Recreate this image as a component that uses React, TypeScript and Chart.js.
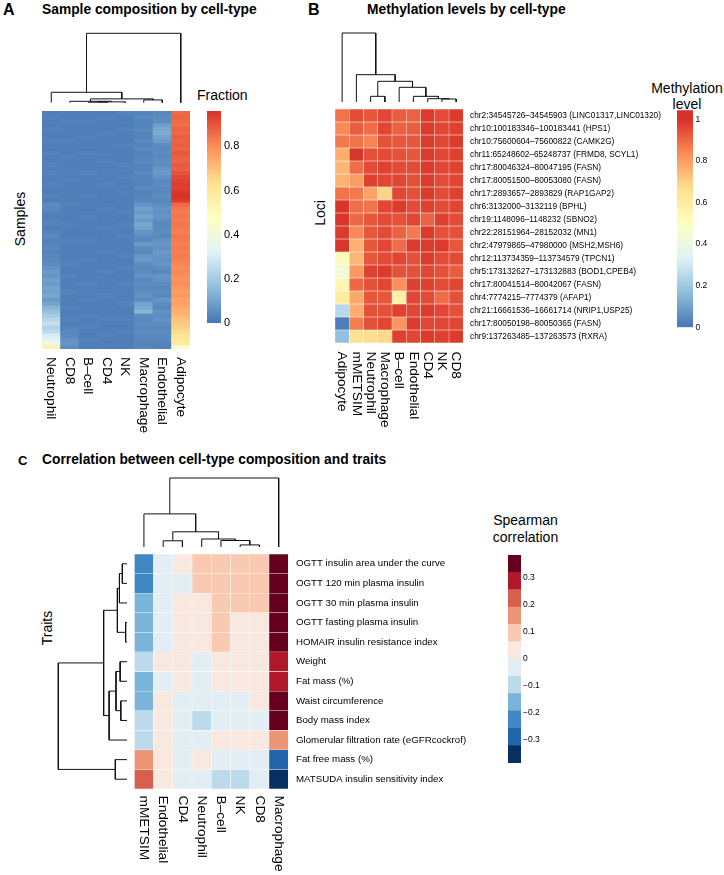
import React, { useEffect, useRef } from 'react';
import { Chart, registerables } from 'chart.js';

Chart.register(...registerables);

const FONT = '"Liberation Sans", Arial, Helvetica, sans-serif';
Chart.defaults.font.family = FONT;
Chart.defaults.color = '#000';

// ================= Panel A: sample composition =================
const A_CELL_TYPES = ['Neutrophil', 'CD8', 'B–cell', 'CD4', 'NK', 'Macrophage', 'Endothelial', 'Adipocyte'];
const A_NEUTROPHIL = [
  0.02, 0.03, 0.02, 0.02, 0.03, 0.02, 0.02, 0.03, 0.02, 0.02, 0.03, 0.02, 0.02, 0.03, 0.02, 0.03, 0.02, 0.02, 0.03, 0.02,
  0.02, 0.03, 0.02, 0.05, 0.04, 0.03, 0.02, 0.03, 0.03, 0.02, 0.03, 0.04, 0.03, 0.03, 0.04, 0.03, 0.04, 0.04, 0.05, 0.06,
  0.08, 0.07, 0.09, 0.08, 0.1, 0.09, 0.11, 0.08, 0.1, 0.14, 0.17, 0.2, 0.23, 0.26, 0.22, 0.25, 0.3, 0.33, 0.38, 0.54,
];
const A_CD8 = [
  0.02, 0.02, 0.03, 0.02, 0.02, 0.02, 0.02, 0.03, 0.02, 0.02, 0.02, 0.03, 0.02, 0.02, 0.02, 0.02, 0.02, 0.03, 0.02, 0.02,
  0.02, 0.02, 0.02, 0.03, 0.02, 0.02, 0.02, 0.02, 0.03, 0.02, 0.02, 0.02, 0.03, 0.02, 0.02, 0.02, 0.02, 0.02, 0.03, 0.02,
  0.02, 0.03, 0.02, 0.02, 0.02, 0.03, 0.02, 0.02, 0.02, 0.03, 0.02, 0.02, 0.03, 0.02, 0.03, 0.04, 0.04, 0.06, 0.07, 0.05,
];
const A_BCELL = [
  0.02, 0.02, 0.03, 0.02, 0.02, 0.02, 0.03, 0.02, 0.02, 0.02, 0.03, 0.02, 0.02, 0.02, 0.02, 0.03, 0.02, 0.02, 0.02, 0.02,
  0.02, 0.03, 0.02, 0.02, 0.02, 0.02, 0.03, 0.02, 0.02, 0.02, 0.02, 0.02, 0.03, 0.02, 0.02, 0.02, 0.02, 0.03, 0.02, 0.02,
  0.02, 0.02, 0.02, 0.03, 0.02, 0.02, 0.02, 0.03, 0.02, 0.02, 0.02, 0.03, 0.02, 0.02, 0.03, 0.02, 0.02, 0.03, 0.02, 0.02,
];
const A_CD4 = [
  0.02, 0.03, 0.02, 0.02, 0.02, 0.03, 0.02, 0.02, 0.02, 0.02, 0.02, 0.02, 0.03, 0.02, 0.02, 0.02, 0.02, 0.02, 0.03, 0.02,
  0.02, 0.02, 0.02, 0.02, 0.03, 0.02, 0.02, 0.02, 0.02, 0.03, 0.02, 0.02, 0.02, 0.02, 0.02, 0.03, 0.02, 0.02, 0.02, 0.02,
  0.03, 0.02, 0.02, 0.02, 0.02, 0.02, 0.03, 0.02, 0.02, 0.02, 0.02, 0.02, 0.03, 0.02, 0.02, 0.02, 0.03, 0.02, 0.02, 0.02,
];
const A_NK = [
  0.03, 0.02, 0.02, 0.02, 0.03, 0.02, 0.02, 0.02, 0.03, 0.02, 0.02, 0.02, 0.02, 0.03, 0.02, 0.02, 0.03, 0.02, 0.02, 0.02,
  0.03, 0.02, 0.02, 0.02, 0.02, 0.03, 0.02, 0.02, 0.03, 0.02, 0.02, 0.03, 0.02, 0.02, 0.02, 0.02, 0.03, 0.02, 0.02, 0.03,
  0.02, 0.02, 0.02, 0.03, 0.02, 0.02, 0.02, 0.02, 0.03, 0.02, 0.02, 0.02, 0.03, 0.02, 0.02, 0.03, 0.02, 0.02, 0.02, 0.02,
];
const A_MACROPHAGE = [
  0.03, 0.04, 0.03, 0.03, 0.04, 0.03, 0.03, 0.04, 0.03, 0.04, 0.03, 0.03, 0.04, 0.03, 0.03, 0.04, 0.03, 0.03, 0.03, 0.04,
  0.03, 0.03, 0.04, 0.07, 0.09, 0.08, 0.1, 0.08, 0.11, 0.09, 0.07, 0.05, 0.04, 0.08, 0.05, 0.04, 0.07, 0.08, 0.05, 0.04,
  0.05, 0.06, 0.04, 0.05, 0.04, 0.05, 0.06, 0.05, 0.1, 0.11, 0.14, 0.05, 0.04, 0.05, 0.04, 0.05, 0.04, 0.04, 0.03, 0.04,
];
const A_ENDOTHELIAL = [
  0.04, 0.05, 0.05, 0.09, 0.11, 0.12, 0.1, 0.08, 0.05, 0.04, 0.05, 0.04, 0.05, 0.05, 0.07, 0.08, 0.06, 0.04, 0.05, 0.04,
  0.04, 0.05, 0.04, 0.05, 0.07, 0.06, 0.07, 0.05, 0.04, 0.05, 0.05, 0.04, 0.06, 0.07, 0.06, 0.08, 0.07, 0.06, 0.07, 0.05,
  0.04, 0.07, 0.06, 0.05, 0.04, 0.05, 0.04, 0.07, 0.05, 0.04, 0.06, 0.05, 0.06, 0.05, 0.04, 0.05, 0.04, 0.04, 0.03, 0.03,
];
const A_ADIPOCYTE = [
  0.86, 0.87, 0.86, 0.85, 0.87, 0.86, 0.88, 0.87, 0.88, 0.87, 0.89, 0.88, 0.87, 0.89, 0.88, 0.9, 0.92, 0.93, 0.94, 0.93,
  0.95, 0.96, 0.94, 0.86, 0.84, 0.83, 0.84, 0.83, 0.84, 0.83, 0.82, 0.84, 0.83, 0.82, 0.83, 0.82, 0.83, 0.82, 0.81, 0.8,
  0.81, 0.8, 0.79, 0.8, 0.78, 0.77, 0.78, 0.76, 0.76, 0.74, 0.73, 0.72, 0.7, 0.68, 0.67, 0.65, 0.62, 0.6, 0.58, 0.45,
];
const A_SERIES = [A_NEUTROPHIL, A_CD8, A_BCELL, A_CD4, A_NK, A_MACROPHAGE, A_ENDOTHELIAL, A_ADIPOCYTE];
const A_FRACTION_RANGE = [0, 0.96];
const A_FRACTION_TICKS = [0, 0.2, 0.4, 0.6, 0.8];
// hclust-style merges: negative = leaf (1-based), positive = earlier merge; third = height
const A_DENDRO = [[-3, -4, 0.008], [1, -5, 0.012], [-2, 2, 0.02], [-6, -7, 0.04], [3, 4, 0.055], [-1, 5, 0.15], [6, -8, 1.0]];

// ================= Panel B: methylation =================
const B_CELL_TYPES = ['Adipocyte', 'mMETSIM', 'Neutrophil', 'Macrophage', 'B–cell', 'Endothelial', 'CD4', 'NK', 'CD8'];
const B_LOCI = [
  'chr2:34545726–34545903 (LINC01317,LINC01320)',
  'chr10:100183346–100183441 (HPS1)',
  'chr10:75600604–75600822 (CAMK2G)',
  'chr11:65248602–65248737 (FRMD8, SCYL1)',
  'chr17:80046324–80047195 (FASN)',
  'chr17:80051500–80053080 (FASN)',
  'chr17:2893657–2893829 (RAP1GAP2)',
  'chr6:3132000–3132119 (BPHL)',
  'chr19:1148096–1148232 (SBNO2)',
  'chr22:28151964–28152032 (MN1)',
  'chr2:47979865–47980000 (MSH2,MSH6)',
  'chr12:113734359–113734579 (TPCN1)',
  'chr5:173132627–173132883 (BOD1,CPEB4)',
  'chr17:80041514–80042067 (FASN)',
  'chr4:7774215–7774379 (AFAP1)',
  'chr21:16661536–16661714 (NRIP1,USP25)',
  'chr17:80050198–80050365 (FASN)',
  'chr9:137263485–137263573 (RXRA)',
];
const B_METHYLATION = [
  [0.88, 0.95, 0.93, 0.96, 0.92, 0.91, 0.98, 0.95, 0.98],
  [0.84, 0.92, 0.89, 0.96, 0.91, 0.92, 0.98, 0.96, 0.97],
  [0.87, 0.88, 0.85, 0.94, 0.93, 0.93, 0.98, 0.96, 0.98],
  [0.77, 0.99, 0.94, 0.95, 0.94, 0.93, 0.98, 0.96, 0.97],
  [0.75, 0.89, 0.95, 0.97, 0.95, 0.95, 0.98, 0.96, 0.97],
  [0.76, 0.8, 0.97, 0.96, 0.96, 0.94, 0.98, 0.95, 0.96],
  [0.88, 0.87, 0.79, 0.69, 0.96, 0.94, 0.98, 0.95, 0.97],
  [0.99, 0.89, 0.88, 0.96, 0.98, 0.95, 0.97, 0.95, 0.96],
  [0.99, 0.9, 0.93, 0.95, 0.94, 0.96, 0.91, 0.97, 0.95],
  [0.98, 0.84, 0.93, 0.95, 0.91, 0.87, 0.98, 0.94, 0.94],
  [0.99, 0.76, 0.93, 0.96, 0.89, 0.98, 0.98, 0.98, 0.93],
  [0.52, 0.75, 0.93, 0.95, 0.96, 0.94, 0.98, 0.95, 0.95],
  [0.43, 0.81, 0.97, 0.98, 0.94, 0.94, 0.96, 0.94, 0.92],
  [0.55, 0.9, 0.94, 0.96, 0.83, 0.97, 0.97, 0.95, 0.96],
  [0.6, 0.78, 0.93, 0.93, 0.58, 0.96, 0.95, 0.89, 0.94],
  [0.25, 0.77, 0.94, 0.94, 0.97, 0.96, 0.98, 0.96, 0.94],
  [0.02, 0.86, 0.94, 0.96, 0.82, 0.98, 0.96, 0.96, 0.96],
  [0.17, 0.66, 0.67, 0.68, 0.97, 0.96, 0.98, 0.97, 0.98],
];
const B_LEVEL_RANGE = [0, 1.043];
const B_LEVEL_TICKS = [0, 0.2, 0.4, 0.6, 0.8, 1];
const B_DENDRO = [[-8, -9, 0.043], [-7, 1, 0.048], [-6, 2, 0.082], [-3, -4, 0.082], [-5, 3, 0.213], [4, 5, 0.3], [-2, 6, 0.396], [-1, 7, 1.0]];

// ================= Panel C: correlation =================
const C_CELL_TYPES = ['mMETSIM', 'Endothelial', 'CD4', 'Neutrophil', 'B–cell', 'NK', 'CD8', 'Macrophage'];
const C_TRAITS = [
  'OGTT insulin area under the curve',
  'OGTT 120 min plasma insulin',
  'OGTT 30 min plasma insulin',
  'OGTT fasting plasma insulin',
  'HOMAIR insulin resistance index',
  'Weight',
  'Fat mass (%)',
  'Waist circumference',
  'Body mass index',
  'Glomerular filtration rate (eGFRcockrof)',
  'Fat free mass (%)',
  'MATSUDA insulin sensitivity index',
];
const C_CORRELATION = [
  [-0.22, -0.03, 0.03, 0.09, 0.09, 0.09, 0.09, 0.35],
  [-0.22, -0.03, -0.03, 0.09, 0.09, 0.09, 0.09, 0.35],
  [-0.16, -0.03, 0.03, 0.03, 0.09, 0.09, 0.09, 0.35],
  [-0.16, -0.03, 0.03, 0.03, 0.09, 0.03, 0.03, 0.35],
  [-0.16, -0.03, 0.03, 0.03, 0.09, 0.03, 0.03, 0.35],
  [-0.09, 0.03, 0.03, -0.03, 0.03, 0.03, 0.03, 0.29],
  [-0.16, -0.03, 0.03, -0.03, 0.03, 0.03, 0.03, 0.29],
  [-0.16, 0.03, -0.03, -0.03, -0.03, -0.03, 0.03, 0.35],
  [-0.09, 0.03, -0.03, -0.09, -0.03, -0.03, -0.03, 0.35],
  [-0.09, 0.03, -0.03, -0.03, 0.03, 0.03, 0.03, 0.16],
  [0.16, 0.03, -0.03, 0.03, -0.03, -0.03, -0.03, -0.29],
  [0.22, 0.03, -0.03, -0.03, -0.09, -0.09, -0.03, -0.35],
];
const C_BREAKS = [-0.385, -0.321, -0.257, -0.192, -0.128, -0.064, 0, 0.064, 0.128, 0.192, 0.257, 0.321, 0.385];
const C_COLORS = ['#053061', '#2265AD', '#4088C3', '#7AB4D8', '#BDDAEB', '#E2EDF4', '#F9E8E0', '#F9C9B1', '#EC9575', '#D6604D', '#B1182B', '#67001F'];
const C_TICKS = [-0.3, -0.2, -0.1, 0, 0.1, 0.2, 0.3];
const C_COL_DENDRO = [[-6, -7, 0.03], [-5, 1, 0.094], [-4, 2, 0.116], [-2, -3, 0.09], [4, 3, 0.22], [-1, 5, 0.48], [6, -8, 1.0]];
const C_ROW_DENDRO = [[-1, -2, 0.068], [1, -3, 0.11], [-4, -5, 0.02], [2, 3, 0.14], [-6, -7, 0.1], [-8, -9, 0.09], [5, 6, 0.16], [7, -10, 0.26], [4, 8, 0.34], [-11, -12, 0.17], [9, 10, 1.0]];

// ================= helpers =================
const RDYLBU = ['#4575B4', '#91BFDB', '#E0F3F8', '#FFFFBF', '#FEE090', '#FC8D59', '#D73027'];
function hexRgb(h: string) {
  const n = parseInt(h.slice(1), 16);
  return [(n >> 16) & 255, (n >> 8) & 255, n & 255];
}
function ramp(t: number) {
  const c = Math.max(0, Math.min(1, t));
  const p = c * (RDYLBU.length - 1);
  const i = Math.min(Math.floor(p), RDYLBU.length - 2);
  const f = p - i;
  const a = hexRgb(RDYLBU[i]);
  const b = hexRgb(RDYLBU[i + 1]);
  return `rgb(${Math.round(a[0] + (b[0] - a[0]) * f)},${Math.round(a[1] + (b[1] - a[1]) * f)},${Math.round(a[2] + (b[2] - a[2]) * f)})`;
}
const colorA = (v: number) => ramp((v - A_FRACTION_RANGE[0]) / (A_FRACTION_RANGE[1] - A_FRACTION_RANGE[0]));
const colorB = (v: number) => ramp(v);
const colorC = (v: number) => {
  for (let k = 0; k < C_COLORS.length; k++) if (v < C_BREAKS[k + 1]) return C_COLORS[k];
  return C_COLORS[C_COLORS.length - 1];
};

type Area = { x: number; y: number; w: number; h: number };
type Pad = { l: number; t: number; r: number; b: number };

function geometry(area: Area, pad: Pad) {
  const left = Math.floor(area.x - pad.l);
  const top = Math.floor(area.y - pad.t);
  const width = Math.ceil(area.x + area.w + pad.r) - left;
  const height = Math.ceil(area.y + area.h + pad.b) - top;
  const pl = area.x - left;
  const pt = area.y - top;
  return { left, top, width, height, pl, pt, pr: width - pl - area.w, pb: height - pt - area.h };
}

const baseOptions = {
  responsive: false,
  animation: false,
  events: [],
  plugins: { legend: { display: false }, tooltip: { enabled: false } },
};

const colLabelPlugin = {
  id: 'colLabels',
  afterDraw(chart: any, _a: any, o: any) {
    const { ctx, chartArea } = chart;
    const xs = chart.scales.x;
    ctx.save();
    ctx.fillStyle = '#000';
    ctx.font = `${o.size}px ${FONT}`;
    ctx.textAlign = 'left';
    ctx.textBaseline = 'middle';
    o.labels.forEach((lab: string, i: number) => {
      const x = xs.getPixelForValue(i);
      ctx.save();
      ctx.translate(x, chartArea.bottom + o.gap);
      ctx.rotate(Math.PI / 2);
      ctx.fillText(lab, 0, 0);
      ctx.restore();
    });
    ctx.restore();
  },
};

function ChartBox({ area, pad, axisW = 0, build }: { area: Area; pad: Pad; axisW?: number; build: (padding: any) => any }) {
  const ref = useRef<HTMLCanvasElement | null>(null);
  const g = geometry(area, pad);
  useEffect(() => {
    const cfg = build({ left: g.pl, top: g.pt, right: g.pr - axisW, bottom: g.pb });
    const chart = new Chart(ref.current as HTMLCanvasElement, cfg);
    return () => chart.destroy();
  }, []);
  return (
    <canvas
      ref={ref}
      width={g.width}
      height={g.height}
      style={{ position: 'absolute', left: g.left, top: g.top, width: g.width, height: g.height }}
    />
  );
}

function heatmap(opts: {
  columns: string[];
  matrix: number[][];
  colorOf: (v: number) => string;
  rowLabels?: string[];
  rowFont?: number;
  rowGap?: number;
  axisW?: number;
  colFont: number;
  colGap: number;
  border: number;
}) {
  return (padding: any) => {
    const n = opts.matrix.length;
    const scales: any = {
      x: { type: 'category', display: false, offset: true },
      y: { type: 'linear', min: 0, max: n, reverse: true, display: false },
    };
    if (opts.rowLabels) {
      scales.yl = {
        type: 'category',
        axis: 'y',
        labels: opts.rowLabels,
        position: 'right',
        offset: true,
        grid: { display: false, drawTicks: false },
        border: { display: false },
        ticks: { padding: opts.rowGap, font: { size: opts.rowFont }, color: '#000', autoSkip: false, maxRotation: 0 },
        afterFit: (s: any) => {
          s.width = opts.axisW;
        },
      };
    }
    return {
      type: 'bar',
      data: {
        labels: opts.columns,
        datasets: opts.matrix.map((row, r) => ({
          data: row.map(() => [r, r + 1]),
          backgroundColor: row.map((v) => opts.colorOf(v)),
          borderColor: 'rgba(255,255,255,0.55)',
          borderWidth: opts.border,
          borderSkipped: false,
          grouped: false,
          barPercentage: 1,
          categoryPercentage: 1,
        })),
      },
      options: {
        ...baseOptions,
        layout: { padding },
        scales,
        plugins: { ...baseOptions.plugins, colLabels: { labels: opts.columns, size: opts.colFont, gap: opts.colGap } },
      },
      plugins: [colLabelPlugin],
    };
  };
}

function colorbar(opts: {
  range: number[];
  ticks: number[];
  tickFont: number;
  tickGap: number;
  axisW: number;
  bins?: { lo: number; hi: number; color: string }[];
  colorAt?: (v: number) => string;
  fmt: (v: number) => string;
}) {
  return (padding: any) => {
    let datasets: any[];
    if (opts.bins) {
      datasets = opts.bins.map((b) => ({
        data: [[b.lo, b.hi]],
        backgroundColor: b.color,
        borderWidth: 0,
        grouped: false,
        barPercentage: 1,
        categoryPercentage: 1,
      }));
    } else {
      const [lo, hi] = opts.range;
      const colorAt = opts.colorAt as (v: number) => string;
      datasets = [
        {
          data: [[lo, hi]],
          borderWidth: 0,
          grouped: false,
          barPercentage: 1,
          categoryPercentage: 1,
          backgroundColor: (ctx: any) => {
            const chart = ctx.chart;
            const ys = chart.scales.y;
            if (!ys || !chart.chartArea) return colorAt(lo);
            const p0 = ys.getPixelForValue(lo);
            const p1 = ys.getPixelForValue(hi);
            if (!isFinite(p0) || !isFinite(p1) || p0 === p1) return colorAt(lo);
            const g = chart.ctx.createLinearGradient(0, p0, 0, p1);
            const N = 40;
            for (let k = 0; k <= N; k++) {
              const t = k / N;
              g.addColorStop(t, colorAt(lo + t * (hi - lo)));
            }
            return g;
          },
        },
      ];
    }
    return {
      type: 'bar',
      data: { labels: [''], datasets },
      options: {
        ...baseOptions,
        layout: { padding },
        scales: {
          x: { type: 'category', display: false, offset: true },
          y: {
            type: 'linear',
            min: opts.range[0],
            max: opts.range[1],
            position: 'right',
            grid: { display: false, drawTicks: false },
            border: { display: false },
            afterBuildTicks: (s: any) => {
              s.ticks = opts.ticks.map((v) => ({ value: v }));
            },
            ticks: { padding: opts.tickGap, font: { size: opts.tickFont }, color: '#000', callback: (v: number) => opts.fmt(v) },
            afterFit: (s: any) => {
              s.width = opts.axisW;
            },
          },
        },
      },
    };
  };
}

function dendroPoints(merges: number[][], horizontal: boolean) {
  const pos: number[] = [];
  const hgt: number[] = [];
  const P = (id: number) => (id < 0 ? -id - 1 + 0.5 : pos[id - 1]);
  const H = (id: number) => (id < 0 ? 0 : hgt[id - 1]);
  const pts: any[] = [];
  const pt = (p: number, h: number) => (horizontal ? { x: h, y: p } : { x: p, y: h });
  merges.forEach(([a, b, h], k) => {
    const pa = P(a);
    const pb = P(b);
    pts.push(pt(pa, H(a)), pt(pa, h), pt(pb, h), pt(pb, H(b)), { x: 0, y: null });
    pos[k] = (pa + pb) / 2;
    hgt[k] = h;
  });
  return pts;
}

function dendrogram(merges: number[][], leaves: number, rowWise: boolean) {
  return (padding: any) => ({
    type: 'scatter',
    data: {
      datasets: [
        {
          data: dendroPoints(merges, rowWise),
          showLine: true,
          spanGaps: false,
          borderColor: '#111',
          borderWidth: 1,
          pointRadius: 0,
          tension: 0,
          clip: false,
        },
      ],
    },
    options: {
      ...baseOptions,
      layout: { padding },
      scales: rowWise
        ? {
            x: { type: 'linear', min: 0, max: 1, reverse: true, display: false },
            y: { type: 'linear', min: 0, max: leaves, reverse: true, display: false },
          }
        : {
            x: { type: 'linear', min: 0, max: leaves, display: false },
            y: { type: 'linear', min: 0, max: 1, display: false },
          },
    },
  });
}

function Txt({ x, y, size, text, bold = false, center = false, rotate = 0 }: any) {
  return (
    <div
      style={{
        position: 'absolute',
        left: x,
        top: y,
        fontSize: size,
        fontWeight: bold ? 'bold' : 'normal',
        lineHeight: 1,
        whiteSpace: 'nowrap',
        fontFamily: FONT,
        color: '#000',
        transform: `translate(${center ? '-50%' : '0'}, -50%) rotate(${rotate}deg)`,
      }}
    >
      {text}
    </div>
  );
}

const fmtNum = (v: number) => (v < 0 ? '−' + String(Math.abs(v)) : String(v));

const A_MATRIX = A_NEUTROPHIL.map((_, i) => A_SERIES.map((s) => s[i]));
const C_BINS = C_COLORS.map((color, k) => ({ lo: C_BREAKS[k], hi: C_BREAKS[k + 1], color }));

export default function App() {
  const none = { l: 2, t: 2, r: 2, b: 2 };
  return (
    <div
      style={{
        position: 'absolute',
        left: 0,
        top: 0,
        width: 724,
        height: 875,
        overflow: 'hidden',
        background: '#fff',
        fontFamily: FONT,
      }}
    >
      {/* Panel A */}
      <Txt x={3} y={9.5} size={16} bold text="A" />
      <Txt x={42} y={9.5} size={13.8} bold text="Sample composition by cell-type" />
      <Txt x={197} y={95} size={14} text="Fraction" />
      <Txt x={20} y={219} size={14} center rotate={-90} text="Samples" />
      <ChartBox area={{ x: 42, y: 33.3, w: 148, h: 69.4 }} pad={none} build={dendrogram(A_DENDRO, 8, false)} />
      <ChartBox
        area={{ x: 42, y: 111, w: 148, h: 238 }}
        pad={{ l: 2, t: 2, r: 2, b: 100 }}
        build={heatmap({ columns: A_CELL_TYPES, matrix: A_MATRIX, colorOf: colorA, colFont: 13.7, colGap: 8, border: 0 })}
      />
      <ChartBox
        area={{ x: 207, y: 111, w: 14, h: 212 }}
        pad={{ l: 1, t: 10, r: 34, b: 10 }}
        axisW={33}
        build={colorbar({ range: A_FRACTION_RANGE, ticks: A_FRACTION_TICKS, tickFont: 11, tickGap: 3, axisW: 33, colorAt: colorA, fmt: fmtNum })}
      />

      {/* Panel B */}
      <Txt x={308} y={9.5} size={16} bold text="B" />
      <Txt x={367} y={9.5} size={13.8} bold text="Methylation levels by cell-type" />
      <Txt x={319.5} y={213} size={14} center rotate={-90} text="Loci" />
      <Txt x={687} y={88} size={14} center text="Methylation" />
      <Txt x={687} y={103.5} size={14} center text="level" />
      <ChartBox area={{ x: 335, y: 33, w: 128.3, h: 69 }} pad={none} build={dendrogram(B_DENDRO, 9, false)} />
      <ChartBox
        area={{ x: 335, y: 109, w: 128.3, h: 234 }}
        pad={{ l: 2, t: 14, r: 200, b: 95 }}
        axisW={199}
        build={heatmap({
          columns: B_CELL_TYPES,
          matrix: B_METHYLATION,
          colorOf: colorB,
          rowLabels: B_LOCI,
          rowFont: 8.3,
          rowGap: 6.7,
          axisW: 199,
          colFont: 13.7,
          colGap: 8.5,
          border: 0.5,
        })}
      />
      <ChartBox
        area={{ x: 677, y: 110.3, w: 16, h: 217 }}
        pad={{ l: 1, t: 10, r: 30, b: 10 }}
        axisW={29}
        build={colorbar({ range: B_LEVEL_RANGE, ticks: B_LEVEL_TICKS, tickFont: 8.5, tickGap: 2.5, axisW: 29, colorAt: colorB, fmt: fmtNum })}
      />

      {/* Panel C */}
      <Txt x={18} y={460} size={13} bold text="C" />
      <Txt x={42} y={460} size={13.8} bold text="Correlation between cell-type composition and traits" />
      <Txt x={47} y={628} size={14} center rotate={-90} text="Traits" />
      <Txt x={525.5} y={520} size={14} center text="Spearman" />
      <Txt x={525.5} y={536.5} size={14} center text="correlation" />
      <ChartBox area={{ x: 134.3, y: 478, w: 154, h: 69 }} pad={none} build={dendrogram(C_COL_DENDRO, 8, false)} />
      <ChartBox area={{ x: 58.3, y: 554, w: 68.7, h: 235 }} pad={none} build={dendrogram(C_ROW_DENDRO, 12, true)} />
      <ChartBox
        area={{ x: 134.3, y: 554, w: 154, h: 235 }}
        pad={{ l: 2, t: 14, r: 200, b: 84 }}
        axisW={199}
        build={heatmap({
          columns: C_CELL_TYPES,
          matrix: C_CORRELATION,
          colorOf: colorC,
          rowLabels: C_TRAITS,
          rowFont: 9.7,
          rowGap: 7.7,
          axisW: 199,
          colFont: 13.7,
          colGap: 6.5,
          border: 0.5,
        })}
      />
      <ChartBox
        area={{ x: 508, y: 555, w: 13, h: 208 }}
        pad={{ l: 1, t: 10, r: 30, b: 10 }}
        axisW={29}
        build={colorbar({ range: [C_BREAKS[0], C_BREAKS[C_BREAKS.length - 1]], ticks: C_TICKS, tickFont: 8.5, tickGap: 2, axisW: 29, bins: C_BINS, fmt: fmtNum })}
      />
    </div>
  );
}
